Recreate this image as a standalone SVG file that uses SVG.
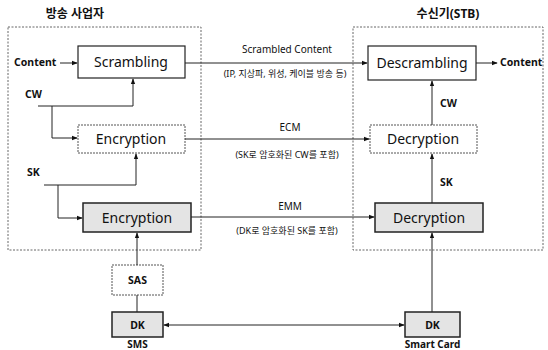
<svg xmlns="http://www.w3.org/2000/svg" width="548" height="350" viewBox="0 0 548 350">
<defs>
<style>
text{font-family:"Noto Sans","Noto Sans CJK KR",sans-serif;fill:#111}
.ttl{font-size:12px;font-weight:bold;text-anchor:middle}
.box{fill:#fff;stroke:#222;stroke-width:1.2}
.boxd{fill:#fff;stroke:#555;stroke-width:1;stroke-dasharray:2 1}
.gbox{fill:#e4e4e4;stroke:#222;stroke-width:1.5}
.grp{fill:none;stroke:#666;stroke-width:1;stroke-dasharray:2 1.5}
.bt{font-size:14px;text-anchor:middle}
.lb{font-size:10.5px;font-weight:bold}
.cap{font-size:10px;font-weight:bold;text-anchor:middle}
.ml{font-size:10px;text-anchor:middle}
.sub{font-size:9px;text-anchor:middle}
.ln{fill:none;stroke:#222;stroke-width:1}
</style>
<marker id="ah" viewBox="0 0 8 8" refX="7" refY="4" markerWidth="6" markerHeight="6" orient="auto-start-reverse">
<path d="M0,1 L8,4 L0,7 z" fill="#111"/>
</marker>
</defs>
<g id="broadcaster">
<rect class="grp" x="8" y="27" width="193" height="223"/>
<text class="ttl" x="75" y="18">방송 사업자</text>
</g>
<g id="receiver">
<rect class="grp" x="353" y="27" width="190" height="223"/>
<text class="ttl" x="448" y="18">수신기(STB)</text>
</g>
<g id="scrambling"><rect class="box" x="78" y="46" width="107" height="32"/><text class="bt" x="131" y="67">Scrambling</text></g>
<g id="encryption1"><rect class="boxd" x="78" y="125" width="107" height="28"/><text class="bt" x="131" y="144">Encryption</text></g>
<g id="encryption2"><rect class="gbox" x="83" y="203" width="108" height="29"/><text class="bt" x="137" y="223">Encryption</text></g>
<g id="sas"><rect class="boxd" x="112" y="265" width="51" height="30"/><text class="lb" x="137.5" y="284" text-anchor="middle">SAS</text></g>
<g id="dk-sms"><rect class="gbox" x="112" y="312" width="51" height="25"/><text class="lb" x="137.5" y="328.5" text-anchor="middle">DK</text><text class="cap" x="137.5" y="347.5">SMS</text></g>
<g id="descrambling"><rect class="box" x="368" y="46" width="108" height="34"/><text class="bt" x="422" y="68">Descrambling</text></g>
<g id="decryption1"><rect class="boxd" x="370" y="125" width="107" height="28"/><text class="bt" x="423" y="144">Decryption</text></g>
<g id="decryption2"><rect class="gbox" x="375" y="203" width="108" height="29"/><text class="bt" x="429" y="223">Decryption</text></g>
<g id="dk-card"><rect class="gbox" x="405" y="312" width="55" height="25"/><text class="lb" x="432.5" y="328.5" text-anchor="middle">DK</text><text class="cap" x="432.5" y="347.5">Smart Card</text></g>
<g id="labels">
<text class="lb" x="14" y="66">Content</text>
<text class="lb" x="25" y="98">CW</text>
<text class="lb" x="27" y="176">SK</text>
<text class="lb" x="500" y="66">Content</text>
<text class="lb" x="440" y="107">CW</text>
<text class="lb" x="440" y="186">SK</text>
<text class="ml" x="287" y="53">Scrambled Content</text>
<text class="sub" x="285" y="77">(IP, 지상파, 위성, 케이블 방송 등)</text>
<text class="ml" x="290" y="131">ECM</text>
<text class="sub" x="287" y="158">(SK로 암호화된 CW를 포함)</text>
<text class="ml" x="290" y="210">EMM</text>
<text class="sub" x="287" y="234">(DK로 암호화된 SK를 포함)</text>
</g>
<g id="connectors">
<path class="ln" d="M60,63 H77" marker-end="url(#ah)"/>
<path class="ln" d="M38,106 H133 V79" marker-end="url(#ah)"/>
<path class="ln" d="M52,106 V138 H77" marker-end="url(#ah)"/>
<path class="ln" d="M44,185 H136 V154" marker-end="url(#ah)"/>
<path class="ln" d="M58,185 V218 H82" marker-end="url(#ah)"/>
<path class="ln" d="M137,265 V233" marker-end="url(#ah)"/>
<path class="ln" d="M137,312 V295"/>
<path class="ln" d="M164,325 H404" marker-start="url(#ah)" marker-end="url(#ah)"/>
<path class="ln" d="M432,312 V233" marker-end="url(#ah)"/>
<path class="ln" d="M432,203 V154" marker-end="url(#ah)"/>
<path class="ln" d="M432,125 V81" marker-end="url(#ah)"/>
<path class="ln" d="M476,63 H497" marker-end="url(#ah)"/>
<path class="ln" d="M185,63 H367" marker-end="url(#ah)"/>
<path class="ln" d="M185,139 H369" marker-end="url(#ah)"/>
<path class="ln" d="M191,217 H374" marker-end="url(#ah)"/>
</g>
</svg>
